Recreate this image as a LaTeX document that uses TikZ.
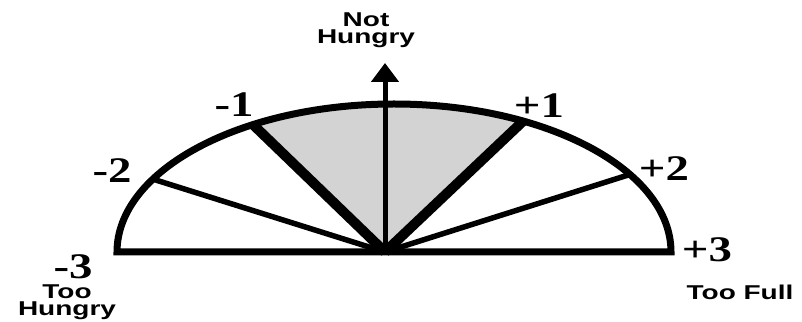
\documentclass[tikz,border=0pt]{standalone}
\usepackage{fontspec}
\setmainfont{Liberation Serif}
\setsansfont{Liberation Sans}
\usetikzlibrary{arrows.meta,positioning}
\definecolor{Ink}{HTML}{000000}
\definecolor{Shade}{HTML}{D3D3D3}
\tikzset{
  rim/.style={draw=Ink,line width=7pt,line join=miter},
  spoke/.style={draw=Ink,line width=5.5pt},
  spokeBold/.style={draw=Ink,line width=10pt},
  axisArrow/.style={draw=Ink,line width=5pt,-{Triangle[length=19pt,width=27pt]}},
  tick/.style={font=\fontsize{36}{36}\selectfont\bfseries,text=Ink,inner sep=0pt,xscale=1.3},
  caption/.style={font=\fontsize{20}{17}\selectfont\sffamily\bfseries,text=Ink,align=center,inner sep=0pt,xscale=1.4}
}
\begin{document}
\begin{tikzpicture}[x=1pt,y=1pt]
\useasboundingbox (0,0) rectangle (802,321);
% centre of the dial and rim points
\coordinate (O) at (385,69);
\coordinate (C) at (394,69);
\path (C) ++(180:277 and 148) coordinate (m3);
\path (C) ++(150.5:277 and 148) coordinate (m2);
\path (C) ++(120.6:277 and 148) coordinate (m1);
\path (C) ++(62.2:277 and 148) coordinate (p1);
\path (C) ++(31.6:277 and 148) coordinate (p2);
\path (C) ++(0:277 and 148) coordinate (p3);
\coordinate (top) at (385,258);
% comfortable zone
\fill[Shade] (O) -- (m1) arc[start angle=120.6,end angle=62.2,x radius=277,y radius=148] -- cycle;
\draw[spoke] (O) -- (m2);
\draw[spoke] (O) -- (p2);
\draw[spokeBold] (O) -- (m1);
\draw[spokeBold] (O) -- (p1);
\draw[axisArrow] (O) -- (top);
\draw[rim] (m3) arc[start angle=180,end angle=0,x radius=277,y radius=148] -- cycle;
% labels
\node[tick] (lm1) at (234,216) {-1};
\node[tick] (lm2) at (112,150) {-2};
\node[tick] (lm3) at (73,54) {-3};
\node[tick] (lp1) at (539,215) {+1};
\node[tick] (lp2) at (664,152) {+2};
\node[tick] (lp3) at (707,71) {+3};
\node[caption] (notHungry) at (366,291) {Not\\Hungry};
\node[caption] (tooHungry) at (67,19) {Too\\Hungry};
\node[caption] (tooFull) at (740,29) {Too Full};
\end{tikzpicture}
\end{document}
